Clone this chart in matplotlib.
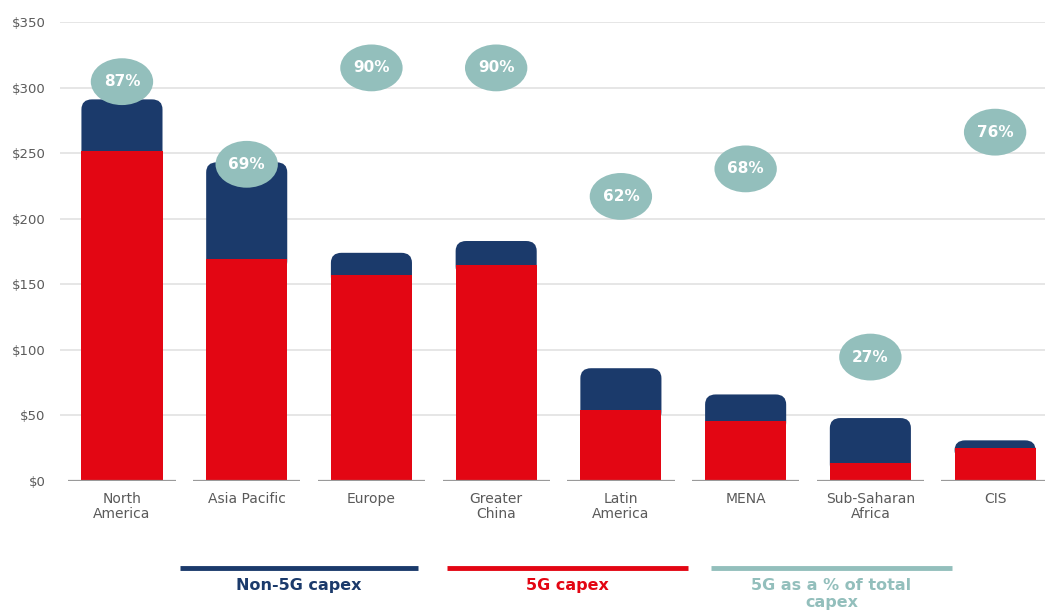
import numpy as np
import matplotlib
matplotlib.use('Agg')
import matplotlib.pyplot as plt
from matplotlib.patches import FancyBboxPatch, Ellipse

plt.rcParams['font.family'] = ['DejaVu Sans']

regions = ['North\nAmerica', 'Asia Pacific', 'Europe', 'Greater\nChina', 'Latin\nAmerica',
           'MENA', 'Sub-Saharan\nAfrica', 'CIS']
capex_5g = [252, 169, 157, 165, 54, 46, 14, 25]
capex_total = [291, 243, 174, 183, 86, 66, 48, 31]
pct_5g = [87, 69, 90, 90, 62, 68, 27, 76]
yticks = [0, 50, 100, 150, 200, 250, 300, 350]

RED = '#e30613'
NAVY = '#1b3a6b'
TEAL = '#93bfbc'
GREY = '#5a5a5a'

fig = plt.figure(figsize=(10.45, 6.14), dpi=100)
ax = fig.add_axes([59.6 / 1045, 133 / 614, 1 - 59.6 / 1045, 459 / 614])
x = np.arange(len(regions))
w = 0.65

ax.set_xlim(-0.5, 7.4)
ax.set_ylim(0, 350)
for y in yticks[1:]:
    ax.axhline(y, color='#e2e2e2', lw=1.2, zorder=0)
ax.hlines(np.zeros(len(x)), x - 0.43, x + 0.43, color='#9a9a9a', lw=1.6, zorder=3)

# navy bars with rounded tops; they start a little below the top of the red
# part so the rounded bottom corners stay hidden behind it
base = np.maximum(np.array(capex_5g) - 9, 0)
tops = ax.bar(x, np.array(capex_total) - base, w, bottom=base, color=NAVY, zorder=2)
for b in tops:
    fb = FancyBboxPatch((b.get_x(), b.get_y()), b.get_width(), b.get_height(),
                        boxstyle='round,pad=0,rounding_size=0.085',
                        mutation_aspect=90, fc=NAVY, ec='none', zorder=2)
    b.remove()
    ax.add_patch(fb)
ax.bar(x, capex_5g, w, color=RED, zorder=2.5)

ax.set_xticks(x)
ax.set_xticklabels(regions, fontsize=10, color=GREY, linespacing=1.1)
ax.set_yticks(yticks)
ax.set_yticklabels(['$%d' % v for v in yticks], fontsize=9.5, color=GREY)
ax.tick_params(length=0)
ax.tick_params(axis='x', pad=8)
ax.tick_params(axis='y', pad=10)
for s in ax.spines.values():
    s.set_visible(False)

ax2 = ax.twinx()
ax2.set_ylim(0, 100)
ax2.axis('off')
for xi, p in zip(x, pct_5g):
    ax2.add_patch(Ellipse((xi, p), 0.5, 10.2, fc=TEAL, ec='none', zorder=4))
    ax2.text(xi, p, '%d%%' % p, ha='center', va='center', color='white',
             fontsize=11, fontweight='bold', zorder=5)

# legend drawn as lines with captions underneath
legend_items = [('Non-5G capex', NAVY, 180, 418),
                ('5G capex', RED, 447, 688),
                ('5G as a % of total\ncapex', TEAL, 711, 952)]
for label, col, x0, x1 in legend_items:
    fig.add_artist(plt.Line2D([x0 / 1045, x1 / 1045], [1 - 568 / 614] * 2,
                              color=col, lw=3.5, solid_capstyle='butt'))
    fig.text((x0 + x1) / 2 / 1045, 1 - 578 / 614, label, ha='center', va='top',
             color=col, fontsize=11.5, fontweight='bold', linespacing=1.15)

fig.savefig('out.png', dpi=100)
